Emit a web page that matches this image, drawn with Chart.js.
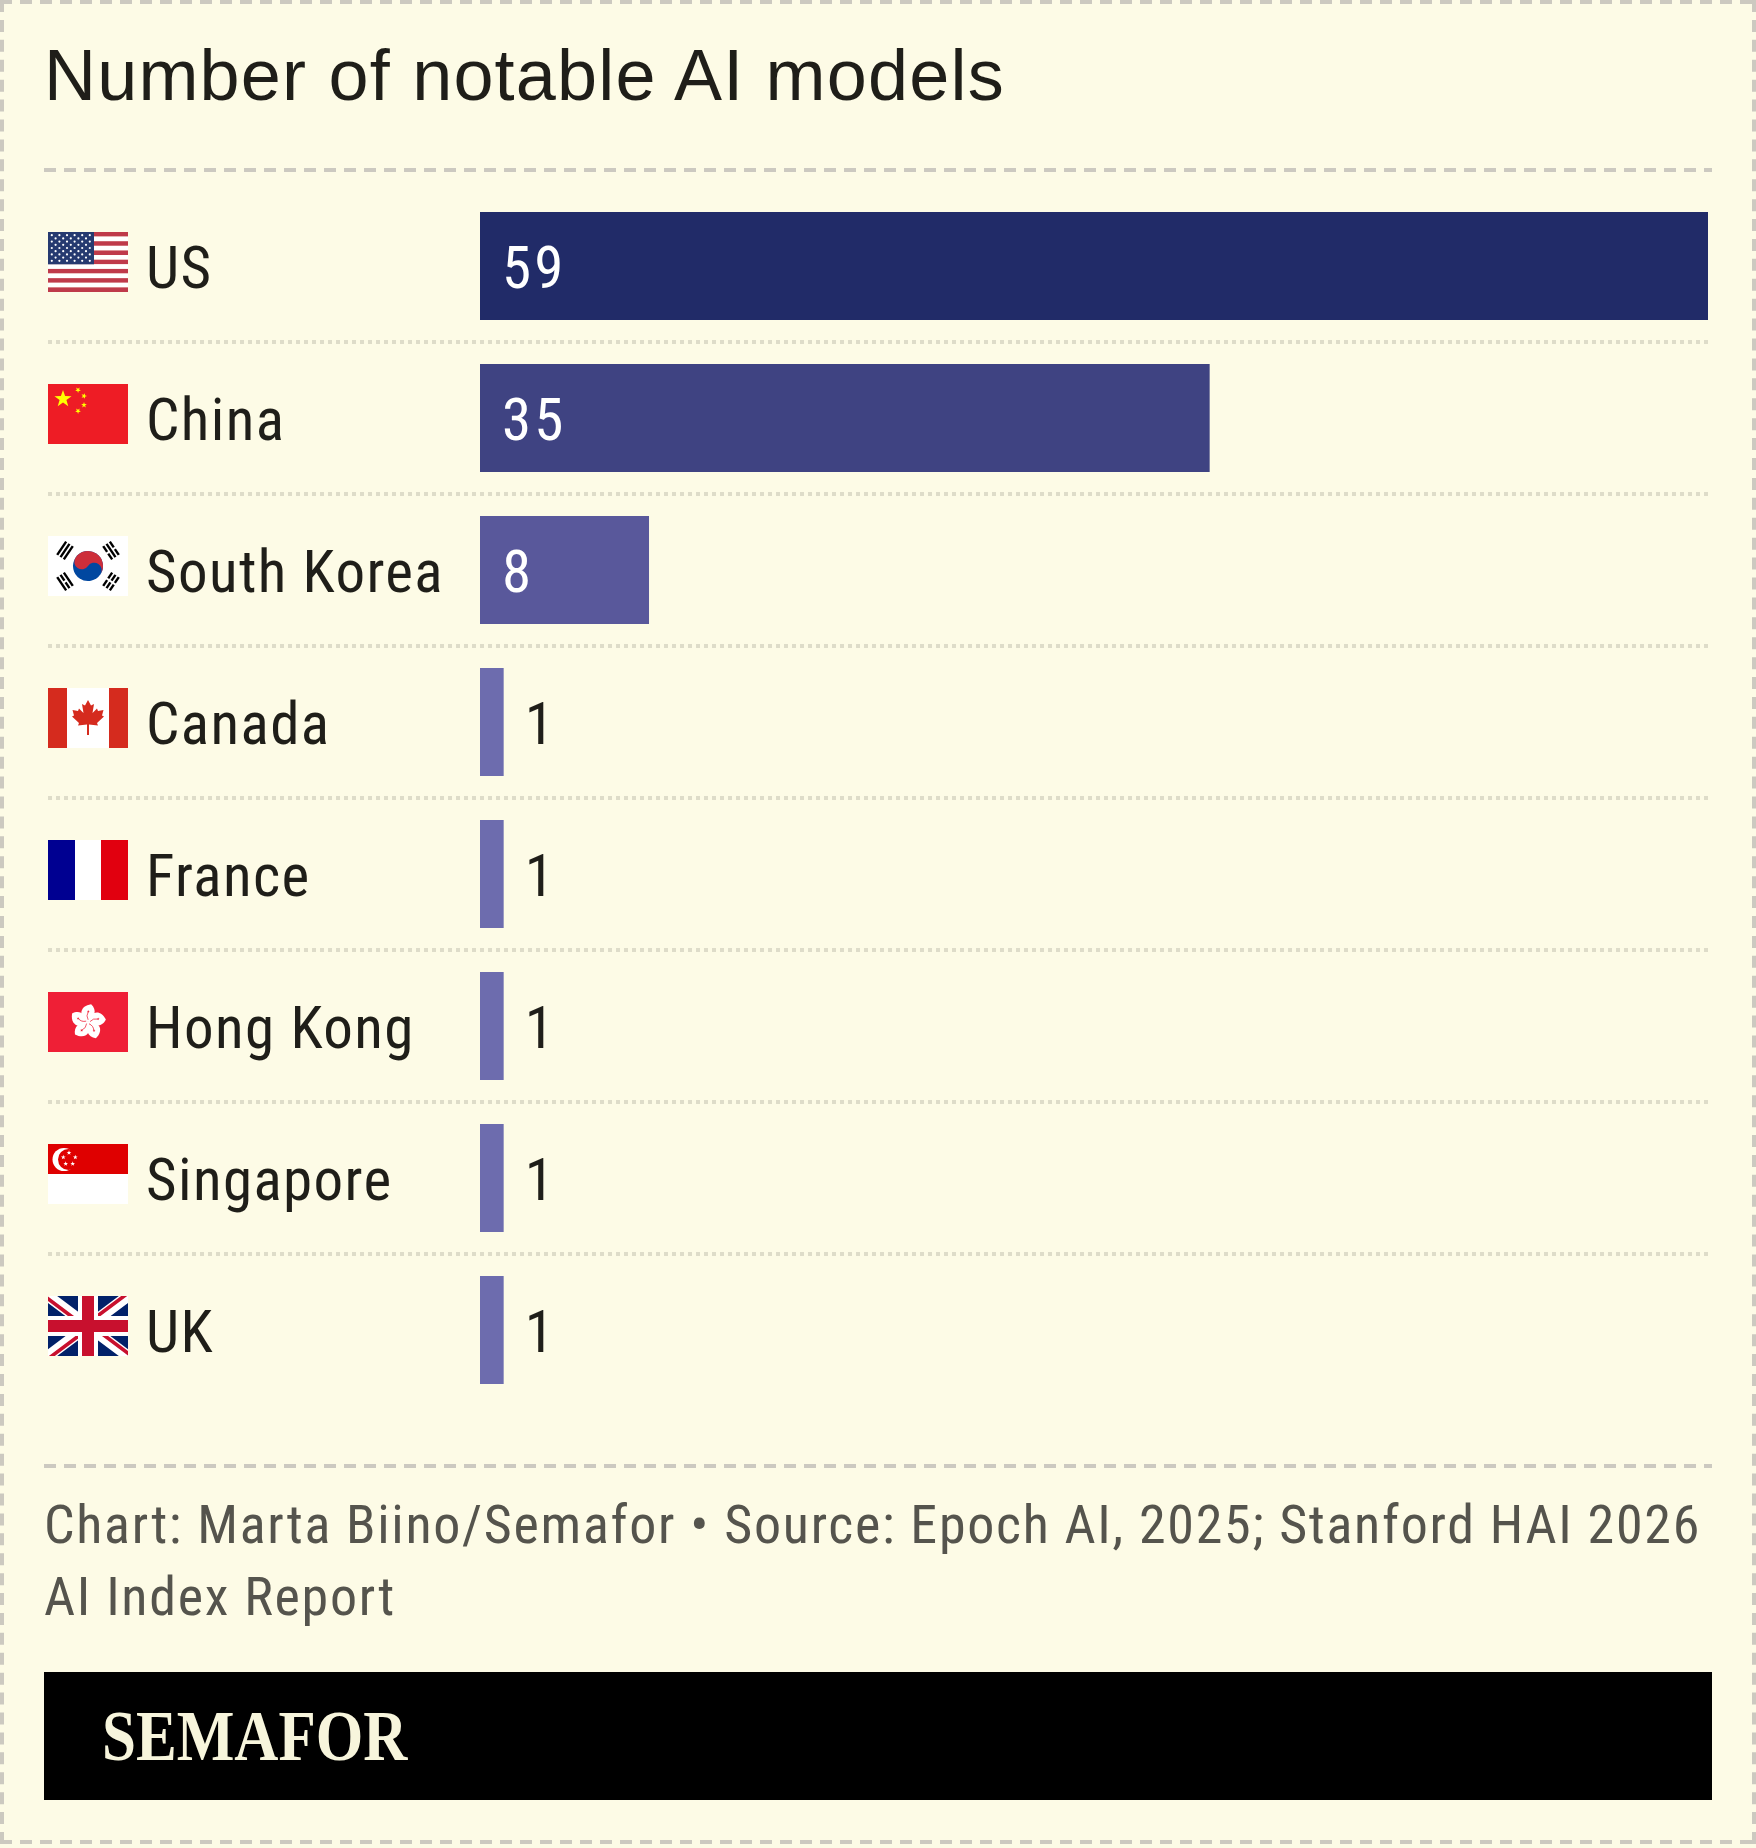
<!DOCTYPE html>
<html lang="en">
<head>
<meta charset="UTF-8">
<title>Number of notable AI models</title>
<script src="https://cdn.jsdelivr.net/npm/chart.js"></script>
<style>
    html, body { margin: 0; background: #fdfbe6; }
    #page { position: relative; width: 1756px; height: 1848px; overflow: hidden; }
    #frame { position: absolute; inset: 0; }
    #chart { position: absolute; left: 0; top: 0; }
    #title {
        position: absolute; left: 44px; top: 35px; margin: 0;
        font: 400 72px/80px "Liberation Sans", sans-serif;
        letter-spacing: 1.2px; color: #1f1e19; white-space: nowrap;
    }
    #source {
        position: absolute; left: 44px; top: 1489px;
        font: 400 54px/72px "Roboto Condensed", sans-serif;
        letter-spacing: 1.7px; color: #55544d; white-space: nowrap;
    }
    #banner { position: absolute; left: 44px; top: 1672px; width: 1668px; height: 128px; background: #000; }
    #logo {
        position: absolute; left: 58px; top: 24px;
        font: 700 71px/80px "Liberation Serif", serif;
        color: #f7f5dc; transform: scaleX(0.86); transform-origin: left center; white-space: nowrap;
    }
</style>
</head>
<body>
<div id="page">
    <svg id="frame" width="1756" height="1848">
        <g fill="none" stroke="#ccc9c0" stroke-width="4" stroke-dasharray="12 8">
            <line x1="0" y1="2" x2="1756" y2="2"/>
            <line x1="0" y1="1842" x2="1756" y2="1842"/>
            <line x1="2" y1="0" x2="2" y2="1844" stroke-dasharray="12 7.913"/>
            <line x1="1754" y1="0" x2="1754" y2="1844" stroke-dasharray="12 7.913"/>
            <line x1="44" y1="170" x2="1712" y2="170"/>
            <line x1="44" y1="1466" x2="1712" y2="1466"/>
        </g>
    </svg>
    <canvas id="chart" width="1756" height="1848"></canvas>
    <h1 id="title">Number of notable AI models</h1>
    <div id="source">Chart: Marta Biino/Semafor • Source: Epoch AI, 2025; Stanford HAI 2026<br>AI Index Report</div>
    <div id="banner"><div id="logo">SEMAFOR</div></div>
</div>
<script>
const countries = ['US', 'China', 'South Korea', 'Canada', 'France', 'Hong Kong', 'Singapore', 'UK'];
const modelCounts = [59, 35, 8, 1, 1, 1, 1, 1];
const barColors = ['#212b68', '#3f4382', '#59589b', '#6d6cae', '#6d6cae', '#6d6cae', '#6d6cae', '#6d6cae'];
const flagKeys = ['us', 'cn', 'kr', 'ca', 'fr', 'hk', 'sg', 'gb'];

const rowFont = { family: '"Roboto Condensed", sans-serif', size: 59, weight: 400 };
const darkText = '#1f1e19';
const dotColor = '#dedcc9';
const labelNudge = 7;
// bars start a touch left of the zero value
const axisStart = -0.14;

function star(ctx, cx, cy, r, color, rot) {
    ctx.fillStyle = color;
    ctx.beginPath();
    for (let i = 0; i < 10; i++) {
        const a = (rot || 0) - Math.PI / 2 + i * Math.PI / 5;
        const d = i % 2 ? r * 0.4 : r;
        ctx.lineTo(cx + Math.cos(a) * d, cy + Math.sin(a) * d);
    }
    ctx.closePath();
    ctx.fill();
}

function rect(ctx, color, x, y, w, h) {
    ctx.fillStyle = color;
    ctx.fillRect(x, y, w, h);
}

// every flag is drawn in an 80 x 60 box
const flags = {
    us(ctx) {
        for (let i = 0; i < 13; i++) {
            rect(ctx, i % 2 ? '#ffffff' : '#bf3a4a', 0, i * 60 / 13, 80, 60 / 13);
        }
        rect(ctx, '#263a70', 0, 0, 46, 32.3);
        ctx.fillStyle = '#ffffff';
        for (let row = 0; row < 9; row++) {
            const n = row % 2 ? 5 : 6;
            for (let col = 0; col < n; col++) {
                const x = (row % 2 ? 7.6 : 3.8) + col * 7.6;
                ctx.beginPath();
                ctx.arc(x, 3.2 + row * 3.2, 1.1, 0, Math.PI * 2);
                ctx.fill();
            }
        }
    },
    cn(ctx) {
        rect(ctx, '#ee1c25', 0, 0, 80, 60);
        star(ctx, 15, 15, 9, '#ffff00');
        star(ctx, 30, 6, 3, '#ffff00', 0.6);
        star(ctx, 36, 12, 3, '#ffff00', 0.3);
        star(ctx, 36, 21, 3, '#ffff00', 0);
        star(ctx, 30, 27, 3, '#ffff00', 0.6);
    },
    kr(ctx) {
        rect(ctx, '#ffffff', 0, 0, 80, 60);
        ctx.save();
        ctx.translate(40, 30);
        ctx.rotate(Math.atan2(2, 3));
        ctx.fillStyle = '#0047a0';
        ctx.beginPath();
        ctx.arc(0, 0, 15, 0, Math.PI * 2);
        ctx.fill();
        ctx.fillStyle = '#cd2e3a';
        ctx.beginPath();
        ctx.arc(0, 0, 15, Math.PI, 0);
        ctx.arc(7.5, 0, 7.5, 0, Math.PI, true);
        ctx.arc(-7.5, 0, 7.5, 0, Math.PI);
        ctx.fill();
        ctx.restore();
        // trigrams: 0 = solid bar, 1 = broken bar
        const trigrams = [
            [17, 14.5, [0, 0, 0]], [63, 14.5, [1, 0, 1]],
            [17, 45.5, [0, 1, 0]], [63, 45.5, [1, 1, 1]]
        ];
        ctx.fillStyle = '#000000';
        trigrams.forEach(([x, y, bars]) => {
            ctx.save();
            ctx.translate(x, y);
            ctx.rotate(Math.atan2(30 - y, 40 - x));
            bars.forEach((broken, i) => {
                const off = (i - 1) * 4;
                if (broken) {
                    ctx.fillRect(off - 1.2, -8, 2.4, 7);
                    ctx.fillRect(off - 1.2, 1, 2.4, 7);
                } else {
                    ctx.fillRect(off - 1.2, -8, 2.4, 16);
                }
            });
            ctx.restore();
        });
    },
    ca(ctx) {
        rect(ctx, '#ffffff', 0, 0, 80, 60);
        rect(ctx, '#d52b1e', 0, 0, 19, 60);
        rect(ctx, '#d52b1e', 61, 0, 19, 60);
        const half = [[0, 12], [3, 17.5], [6, 16], [4.5, 25], [9, 20.5], [10, 23], [15.5, 22], [14, 27.5],
            [16, 28.5], [9, 35], [10, 37.5], [1, 36.5], [1, 47]];
        ctx.fillStyle = '#d52b1e';
        ctx.beginPath();
        half.forEach(([dx, y]) => ctx.lineTo(40 + dx, y));
        half.slice().reverse().forEach(([dx, y]) => ctx.lineTo(40 - dx, y));
        ctx.closePath();
        ctx.fill();
    },
    fr(ctx) {
        rect(ctx, '#000091', 0, 0, 27, 60);
        rect(ctx, '#ffffff', 27, 0, 26, 60);
        rect(ctx, '#e1000f', 53, 0, 27, 60);
    },
    hk(ctx) {
        rect(ctx, '#ef1f36', 0, 0, 80, 60);
        ctx.translate(40, 30);
        for (let i = 0; i < 5; i++) {
            ctx.save();
            ctx.rotate(i * Math.PI * 2 / 5 + 0.12);
            ctx.fillStyle = '#ffffff';
            ctx.beginPath();
            ctx.moveTo(0, 0);
            ctx.bezierCurveTo(-11, -5, -10, -15, 1, -18);
            ctx.bezierCurveTo(8, -13, 6, -5, 0, 0);
            ctx.fill();
            ctx.strokeStyle = '#ef1f36';
            ctx.lineWidth = 0.7;
            ctx.beginPath();
            ctx.moveTo(0, -2);
            ctx.quadraticCurveTo(-3, -6, -1, -10);
            ctx.stroke();
            star(ctx, -1, -10.5, 1.5, '#ef1f36');
            ctx.restore();
        }
    },
    sg(ctx) {
        rect(ctx, '#ffffff', 0, 0, 80, 60);
        rect(ctx, '#df0000', 0, 0, 80, 30);
        ctx.fillStyle = '#ffffff';
        ctx.beginPath();
        ctx.arc(16, 15.5, 11.5, 0, Math.PI * 2);
        ctx.fill();
        ctx.fillStyle = '#df0000';
        ctx.beginPath();
        ctx.arc(20.5, 15.5, 10.5, 0, Math.PI * 2);
        ctx.fill();
        [[21, 8.7], [27.3, 13.3], [24.7, 19.7], [17.7, 19.7], [15.3, 13.3]].forEach(([x, y]) => {
            star(ctx, x, y, 2.5, '#ffffff');
        });
    },
    gb(ctx) {
        const red = '#c8102e';
        rect(ctx, '#012169', 0, 0, 80, 60);
        ctx.lineWidth = 11;
        ctx.strokeStyle = '#ffffff';
        ctx.beginPath();
        ctx.moveTo(0, 0); ctx.lineTo(80, 60);
        ctx.moveTo(80, 0); ctx.lineTo(0, 60);
        ctx.stroke();
        // red diagonals sit off centre in each corner
        ctx.lineWidth = 3.6;
        ctx.strokeStyle = red;
        ctx.beginPath();
        ctx.moveTo(-1.4, 1.8); ctx.lineTo(38.6, 31.8);
        ctx.moveTo(41.4, 28.2); ctx.lineTo(81.4, 58.2);
        ctx.moveTo(78.6, -1.8); ctx.lineTo(41.4, 26);
        ctx.moveTo(38.6, 34); ctx.lineTo(1.4, 61.8);
        ctx.stroke();
        rect(ctx, '#ffffff', 30, 0, 20, 60);
        rect(ctx, '#ffffff', 0, 20, 80, 20);
        rect(ctx, red, 34, 0, 12, 60);
        rect(ctx, red, 0, 24, 80, 12);
    }
};

const rowExtras = {
    id: 'rowExtras',
    beforeDraw(chart) {
        chart.ctx.letterSpacing = '1.4px';
        // the condensed face sits high on its middle baseline
        const yScale = chart.scales.y;
        if (!yScale.nudged) {
            const drawLabels = yScale.drawLabels;
            yScale.drawLabels = function (area) {
                chart.ctx.save();
                chart.ctx.translate(0, labelNudge);
                drawLabels.call(this, area);
                chart.ctx.restore();
            };
            yScale.nudged = true;
        }
    },
    afterDatasetsDraw(chart) {
        const ctx = chart.ctx;
        const yScale = chart.scales.y;

        flagKeys.forEach((key, i) => {
            ctx.save();
            ctx.translate(48, Math.round(yScale.getPixelForValue(i)) - 34);
            ctx.beginPath();
            ctx.rect(0, 0, 80, 60);
            ctx.clip();
            flags[key](ctx);
            ctx.restore();
        });

        // counts go inside wide bars and just past the short ones
        ctx.save();
        ctx.font = `${rowFont.weight} ${rowFont.size}px ${rowFont.family}`;
        ctx.letterSpacing = '3px';
        ctx.textAlign = 'left';
        ctx.textBaseline = 'middle';
        chart.getDatasetMeta(0).data.forEach((bar, i) => {
            const inside = bar.x - bar.base > 100;
            ctx.fillStyle = inside ? '#ffffff' : darkText;
            ctx.fillText(String(modelCounts[i]), inside ? bar.base + 22 : bar.x + 21, bar.y + labelNudge);
        });
        ctx.restore();
    }
};

new Chart(document.getElementById('chart'), {
    type: 'bar',
    data: {
        labels: countries,
        datasets: [{
            data: modelCounts,
            backgroundColor: barColors,
            borderWidth: 0,
            inflateAmount: 0,
            base: axisStart,
            barPercentage: 108 / 152,
            categoryPercentage: 1
        }]
    },
    options: {
        indexAxis: 'y',
        responsive: false,
        animation: false,
        layout: { padding: { left: 146, right: 48, top: 190, bottom: 442 } },
        plugins: { legend: { display: false }, tooltip: { enabled: false } },
        scales: {
            x: { display: false, min: axisStart, max: 59 },
            y: {
                offset: true,
                afterFit(scale) { scale.width = 334; },
                border: { display: false, dash: [4, 4] },
                grid: {
                    offset: true,
                    lineWidth: 4,
                    tickWidth: 4,
                    tickLength: 432,
                    tickBorderDash: [4, 4],
                    color: c => c.index > 0 ? dotColor : 'transparent',
                    tickColor: c => c.index > 0 ? dotColor : 'transparent'
                },
                ticks: { crossAlign: 'far', padding: 0, color: darkText, font: rowFont }
            }
        }
    },
    plugins: [rowExtras]
});
</script>
</body>
</html>
